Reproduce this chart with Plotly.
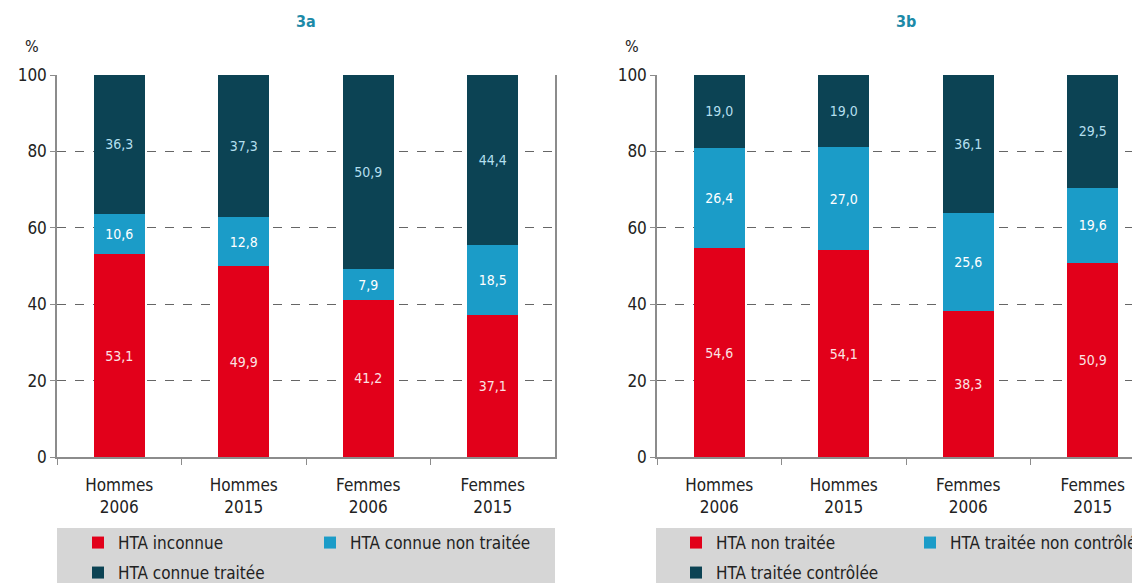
import plotly.graph_objects as go

# ── Données ───────────────────────────────────────────────────
categories = ["Hommes<br>2006", "Hommes<br>2015", "Femmes<br>2006", "Femmes<br>2015"]

# 3a
a_inconnue = [53.1, 49.9, 41.2, 37.1]
a_connue_non_traitee = [10.6, 12.8, 7.9, 18.5]
a_connue_traitee = [36.3, 37.3, 50.9, 44.4]

# 3b
b_non_traitee = [54.6, 54.1, 38.3, 50.9]
b_traitee_non_controlee = [26.4, 27.0, 25.6, 19.6]
b_traitee_controlee = [19.0, 19.0, 36.1, 29.5]

y_ticks = [0, 20, 40, 60, 80, 100]

# ── Palette ───────────────────────────────────────────────────
W, H = 1140, 583
OFF = 8  # marge du <body> dans la page html
_ROUGE = "#e2001a"
_BLEU = "#1b9cc8"
_FONCE = "#0c4354"
_TITRE = "#1d8aa8"
_AXE = "#8c8c8c"
_GRIS = "#d6d6d6"
_TEXTE = "#222222"
FONT = "Liberation Sans Narrow, DejaVu Sans Condensed, Roboto, sans-serif"


def px_x(x):
    return (x - OFF) / W


def px_y(y):
    return 1 - (y - OFF) / H


def fmt(v):
    return f"{v:.1f}".replace(".", ",")


def barre(y, name, color, txtcolor, xaxis, yaxis, legend):
    return go.Bar(
        x=categories, y=y, name=name, showlegend=True,
        marker=dict(color=color, line=dict(width=0)),
        text=[fmt(v) for v in y],
        textposition="inside", insidetextanchor="middle",
        textfont=dict(color=txtcolor, size=14, family=FONT),
        width=0.41, xaxis=xaxis, yaxis=yaxis, legend=legend,
        hoverinfo="skip",
    )


fig = go.Figure()
# 3a
fig.add_trace(barre(a_inconnue, "HTA inconnue", _ROUGE, "#fbe3e3", "x", "y", "legend"))
fig.add_trace(barre(a_connue_non_traitee, "HTA connue non traitée", _BLEU, "#ffffff", "x", "y", "legend2"))
fig.add_trace(barre(a_connue_traitee, "HTA connue traitée", _FONCE, "#b3dfee", "x", "y", "legend3"))
# 3b
fig.add_trace(barre(b_non_traitee, "HTA non traitée", _ROUGE, "#fbe3e3", "x2", "y2", "legend4"))
fig.add_trace(barre(b_traitee_non_controlee, "HTA traitée non contrôlée", _BLEU, "#ffffff", "x2", "y2", "legend5"))
fig.add_trace(barre(b_traitee_controlee, "HTA traitée contrôlée", _FONCE, "#b3dfee", "x2", "y2", "legend6"))

xcommon = dict(
    type="category", showline=True, linecolor=_AXE, linewidth=1.5,
    ticks="outside", tickson="boundaries", ticklen=6, tickcolor=_AXE,
    ticklabelstandoff=12,
    tickfont=dict(size=17, color=_TEXTE, family=FONT),
    showgrid=False, zeroline=False, fixedrange=True,
)
ycommon = dict(
    range=[0, 100], tickvals=y_ticks, showline=True, mirror=True,
    linecolor=_AXE, linewidth=1.5, ticks="outside", ticklen=5, tickcolor=_AXE,
    tickfont=dict(size=17, color=_TEXTE, family=FONT),
    showgrid=True, gridcolor="#666666", gridwidth=1, griddash="dash",
    zeroline=False, domain=[px_y(457), px_y(75)],
)

# panneau 3b coupé à droite comme dans l'original
cat_w = (555 - 57) / 4
fig.update_layout(
    width=W, height=H,
    margin=dict(l=0, r=0, t=0, b=0, autoexpand=False),
    paper_bgcolor="white", plot_bgcolor="white",
    barmode="stack", showlegend=True,
    font=dict(family=FONT, color=_TEXTE),
    xaxis=dict(xcommon, domain=[px_x(57), px_x(555)], range=[-0.5, 3.5], anchor="y"),
    yaxis=dict(ycommon, anchor="x"),
    xaxis2=dict(xcommon, domain=[px_x(657), 1.0],
                range=[-0.5, -0.5 + (W + OFF - 657) / cat_w], anchor="y2"),
    yaxis2=dict(ycommon, anchor="x2"),
)

leg = dict(
    orientation="h", bgcolor="rgba(0,0,0,0)", xanchor="left", yanchor="middle",
    font=dict(size=17, color=_TEXTE, family=FONT), visible=True,
)
fig.update_layout(
    legend=dict(leg, x=px_x(78), y=px_y(543)),
    legend2=dict(leg, x=px_x(310), y=px_y(543)),
    legend3=dict(leg, x=px_x(78), y=px_y(573)),
    legend4=dict(leg, x=px_x(676), y=px_y(543)),
    legend5=dict(leg, x=px_x(910), y=px_y(543)),
    legend6=dict(leg, x=px_x(676), y=px_y(573)),
)

# fonds gris des légendes
for x0, x1 in [(57, 555), (656, W + 40)]:
    fig.add_shape(type="rect", xref="paper", yref="paper",
                  x0=px_x(x0), x1=px_x(x1), y0=-0.05, y1=px_y(528),
                  fillcolor=_GRIS, line=dict(width=0), layer="below")

# titres et unités
for txt, xc in [("3a", 306), ("3b", 906)]:
    fig.add_annotation(text=f"<b>{txt}</b>", xref="paper", yref="paper",
                       x=px_x(xc), y=px_y(22), xanchor="center", yanchor="middle",
                       showarrow=False, font=dict(size=16, color=_TITRE, family=FONT))
for xc in [32, 632]:
    fig.add_annotation(text="%", xref="paper", yref="paper",
                       x=px_x(xc), y=px_y(47), xanchor="center", yanchor="middle",
                       showarrow=False, font=dict(size=16, color=_TEXTE, family=FONT))

fig.write_html("out.html")
